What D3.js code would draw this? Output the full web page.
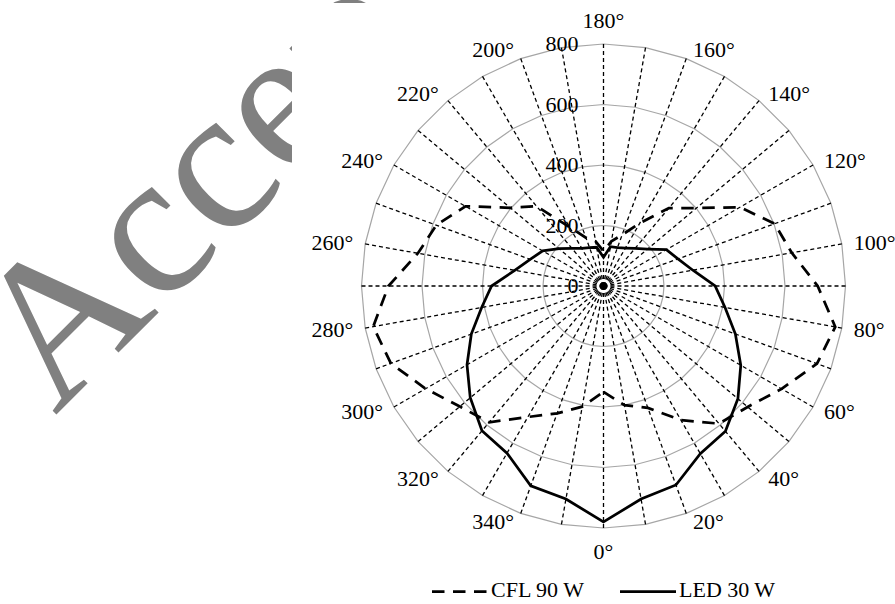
<!DOCTYPE html>
<html>
<head>
<meta charset="utf-8">
<script src="https://cdn.jsdelivr.net/npm/d3@7"></script>
<style>
  body { margin: 0; background: #fff; }
  svg { display: block; }
  text { font-family: "Liberation Serif", "Times New Roman", Times, serif; }
</style>
</head>
<body>
<svg id="chart" width="895" height="604"></svg>
<script>
// Measurement angles (degrees) of the photometric polar diagram
const angles = [0, 10, 20, 30, 40, 50, 60, 70, 80, 90, 100, 110, 120, 130, 140, 150, 160, 170,
                180, 190, 200, 210, 220, 230, 240, 250, 260, 270, 280, 290, 300, 310, 320, 330, 340, 350];

// Luminous intensity per angle
const cflValues = [350, 400, 429, 512, 594, 622, 680, 751, 778, 708, 632, 602, 521, 401, 336, 240, 180, 150,
                   115, 150, 170, 225, 344, 402, 527, 588, 623, 711, 773, 748, 679, 620, 588, 500, 448, 405];
const ledValues = [780, 715, 700, 640, 627, 580, 524, 464, 408, 369, 300, 262, 240, 190, 162, 145, 135, 132,
                   95, 130, 135, 144, 162, 192, 232, 258, 298, 370, 409, 465, 521, 575, 625, 638, 703, 715];

// Axis ticks and labels
const radialTicks = [0, 200, 400, 600, 800];
const labelledAngles = [0, 20, 40, 60, 80, 100, 120, 140, 160, 180, 200, 220, 240, 260, 280, 300, 320, 340];
const seriesNames = ["CFL 90 W", "LED 30 W"];
const watermarkText = "Accep";

const svg = d3.select("#chart");
const W = 895, H = 604;
const cx = 603.5, cy = 286, R = 242;

const r = d3.scaleLinear().domain([0, 800]).range([0, R]);
// 0° points down, angles run counter-clockwise on screen (180° at the top)
const theta = a => (180 - a) * Math.PI / 180;

// Watermark behind the figure panel
svg.append("text")
  .attr("transform", "translate(55,416) rotate(-45)")
  .attr("font-size", 205)
  .attr("fill", "#808080")
  .text(watermarkText);

// White figure panel
svg.append("rect").attr("x", 292).attr("y", 3).attr("width", W - 292).attr("height", H - 3).attr("fill", "#fff");

const g = svg.append("g").attr("transform", `translate(${cx},${cy})`);

// Ring gridlines (polygons through every spoke)
const ringLine = d3.lineRadial()
  .angle(a => theta(a))
  .curve(d3.curveLinearClosed);

g.append("g").selectAll("path")
  .data(radialTicks.filter(v => v > 0))
  .join("path")
  .attr("d", v => ringLine.radius(() => r(v))(angles))
  .attr("fill", "none")
  .attr("stroke", "#a6a6a6")
  .attr("stroke-width", 1.2);

// Dashed spokes
g.append("g").selectAll("line")
  .data(angles)
  .join("line")
  .attr("x1", 0).attr("y1", 0)
  .attr("x2", a => d3.pointRadial(theta(a), R)[0])
  .attr("y2", a => d3.pointRadial(theta(a), R)[1])
  .attr("stroke", "#000")
  .attr("stroke-width", 1.3)
  .attr("stroke-dasharray", "4,3");

// Series
const seriesLine = d3.lineRadial()
  .angle(d => theta(d.a))
  .radius(d => r(d.v))
  .curve(d3.curveLinearClosed);

const cflPts = angles.map((a, i) => ({ a, v: cflValues[i] }));
const ledPts = angles.map((a, i) => ({ a, v: ledValues[i] }));

g.append("path")
  .attr("d", seriesLine(cflPts))
  .attr("fill", "none")
  .attr("stroke", "#000")
  .attr("stroke-width", 2.75)
  .attr("stroke-dasharray", "12.5,8.5")
  .attr("stroke-linejoin", "miter");

g.append("path")
  .attr("d", seriesLine(ledPts))
  .attr("fill", "none")
  .attr("stroke", "#000")
  .attr("stroke-width", 2.75)
  .attr("stroke-linejoin", "miter");

// Angle labels: top/bottom ones centred, the rest set beside the spoke end
g.append("g").selectAll("text")
  .data(labelledAngles)
  .join("text")
  .each(function (a) {
    const t = theta(a);
    const s = Math.sin(t), c = Math.cos(t);
    const el = d3.select(this);
    if (Math.abs(s) < 1e-6) {
      el.attr("x", 0).attr("y", -c * 265.5).attr("text-anchor", "middle");
    } else {
      const gap = 4 + 8 * Math.abs(s);
      el.attr("x", R * s + Math.sign(s) * gap)
        .attr("y", -(R + 9) * c)
        .attr("text-anchor", s > 0 ? "start" : "end");
    }
  })
  .attr("dy", "0.33em")
  .attr("font-size", 22)
  .attr("fill", "#000")
  .text(a => a + "°");

// Radial value labels along the 180° spoke
g.append("g").selectAll("text")
  .data(radialTicks)
  .join("text")
  .attr("x", -25)
  .attr("y", v => -r(v))
  .attr("dy", "0.33em")
  .attr("text-anchor", "end")
  .attr("font-size", 22)
  .attr("fill", "#000")
  .text(v => v);

// Legend
const legend = svg.append("g");
const legendItems = [
  { name: seriesNames[0], x: 432, dash: "12.5,8.5" },
  { name: seriesNames[1], x: 620, dash: null }
];
legendItems.forEach(item => {
  legend.append("line")
    .attr("x1", item.x).attr("x2", item.x + 56)
    .attr("y1", 591.5).attr("y2", 591.5)
    .attr("stroke", "#000")
    .attr("stroke-width", 2.75)
    .attr("stroke-dasharray", item.dash);
  legend.append("text")
    .attr("x", item.x + 59)
    .attr("y", 597)
    .attr("font-size", 22)
    .attr("fill", "#000")
    .text(item.name);
});
</script>
</body>
</html>
